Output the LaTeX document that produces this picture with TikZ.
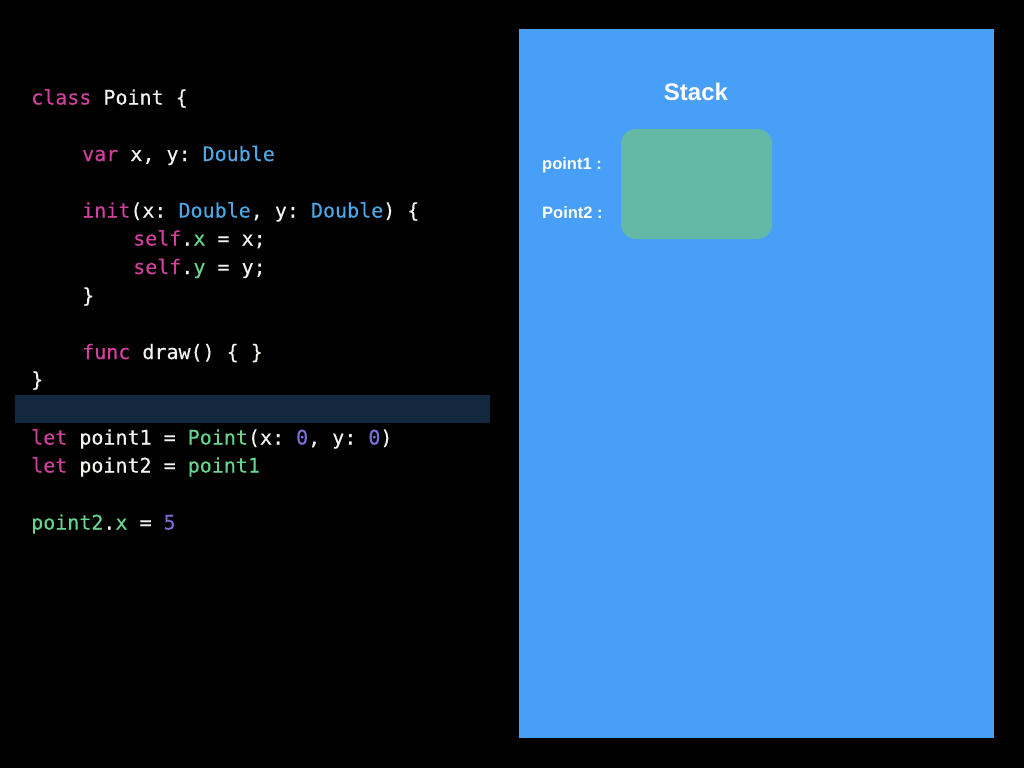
\documentclass[tikz,border=0pt]{standalone}
\usepackage{fontspec}
\setmonofont[FakeBold=0.3]{DejaVu Sans Mono}
\setsansfont{Liberation Sans}
\definecolor{kwcol}{HTML}{D0409E}
\definecolor{typecol}{HTML}{4DA6E5}
\definecolor{grncol}{HTML}{67D48F}
\definecolor{numcol}{HTML}{7B6FD6}
\definecolor{plaincol}{HTML}{F2F2EE}
\definecolor{panelblue}{HTML}{479FF8}
\definecolor{boxgreen}{HTML}{63B9A6}
\definecolor{barnavy}{HTML}{13273F}
\newcommand{\kwd}[1]{\textcolor{kwcol}{#1}}
\newcommand{\typ}[1]{\textcolor{typecol}{#1}}
\newcommand{\grn}[1]{\textcolor{grncol}{#1}}
\newcommand{\cnum}[1]{\textcolor{numcol}{#1}}
\tikzset{
  codeline/.style={anchor=base west, inner sep=0pt, text=plaincol,
    font=\ttfamily\fontsize{20pt}{24pt}\selectfont},
  stacklabel/.style={anchor=base west, inner sep=0pt, text=white,
    font=\sffamily\bfseries\fontsize{16.5pt}{19pt}\selectfont},
  titlelabel/.style={anchor=base, inner sep=0pt, text=white,
    font=\sffamily\bfseries\fontsize{24pt}{28pt}\selectfont}
}
\begin{document}
\begin{tikzpicture}[x=1pt,y=-1pt]
\fill[black] (0,0) rectangle (1024,768);
\useasboundingbox (0,0) rectangle (1024,768);
% highlight bar
\fill[barnavy] (15,395) rectangle (490,423);
% code
\node[codeline] (l1) at (31,104.5) {\kwd{class} Point \{};
\node[codeline] (l2) at (82,161) {\kwd{var} x, y: \typ{Double}};
\node[codeline] (l3) at (82,217.5) {\kwd{init}(x: \typ{Double}, y: \typ{Double}) \{};
\node[codeline] (l4) at (133,245.5) {\kwd{self}.\grn{x} = x;};
\node[codeline] (l5) at (133,274) {\kwd{self}.\grn{y} = y;};
\node[codeline] (l6) at (82,302.5) {\}};
\node[codeline] (l7) at (82,359) {\kwd{func} draw() \{ \}};
\node[codeline] (l8) at (31,386.5) {\}};
\node[codeline] (l9) at (31,444.5) {\kwd{let} point1 = \grn{Point}(x: \cnum{0}, y: \cnum{0})};
\node[codeline] (l10) at (31,472.5) {\kwd{let} point2 = \grn{point1}};
\node[codeline] (l11) at (31,529.5) {\grn{point2}.\grn{x} = \cnum{5}};
% stack panel
\fill[panelblue] (519,29) rectangle (994,738);
\node[titlelabel] (stack) at (696,100) {Stack};
\fill[boxgreen, rounded corners=15pt] (621,129) rectangle (772,239);
\node[stacklabel] (p1) at (542,169) {point1 :};
\node[stacklabel] (p2) at (542,218) {Point2 :};
\end{tikzpicture}
\end{document}
